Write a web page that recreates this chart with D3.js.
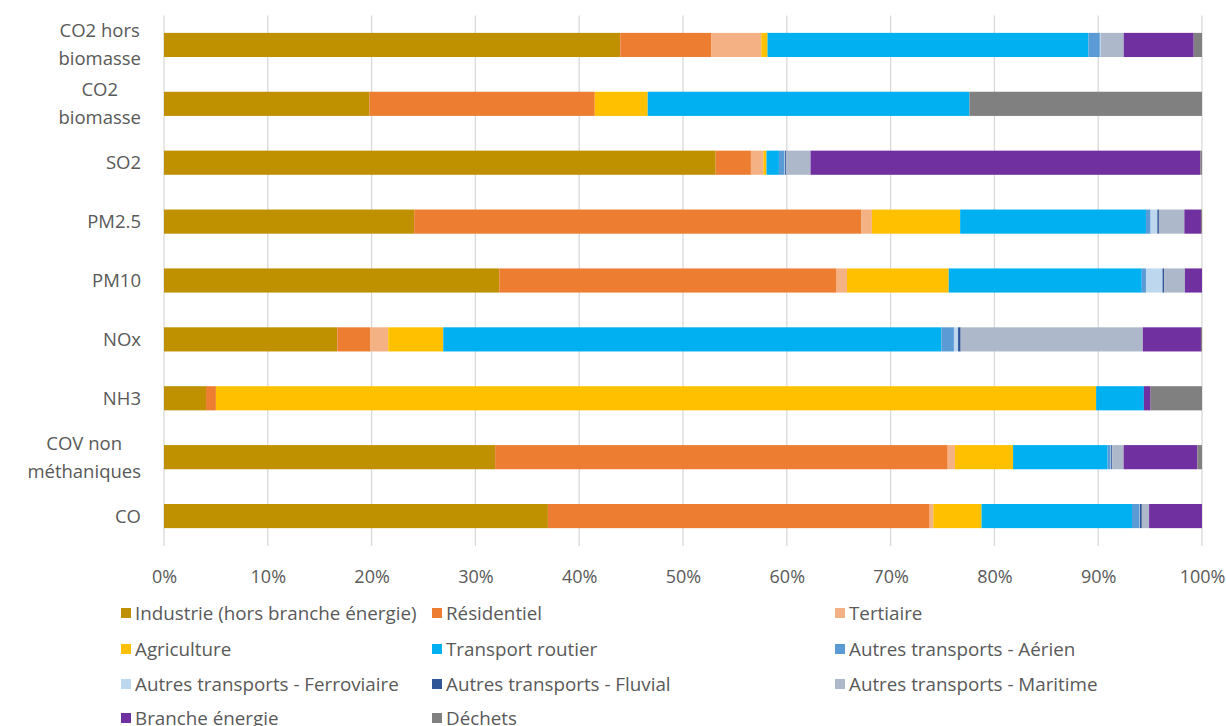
<!DOCTYPE html>
<html><head><meta charset="utf-8">
<script src="https://cdn.jsdelivr.net/npm/d3@7"></script>
<style>
body{margin:0;background:#fff;}
text{font-family:"Open Sans",sans-serif;fill:#595959;}
</style></head>
<body><svg id="c" width="1226" height="726"></svg>
<script>
const categories = ["CO2 hors biomasse","CO2 biomasse","SO2","PM2.5","PM10","NOx","NH3","COV non méthaniques","CO"];
const categoryLines = [["CO2 hors","biomasse"],["CO2","biomasse"],["SO2"],["PM2.5"],["PM10"],["NOx"],["NH3"],["COV non","méthaniques"],["CO"]];
const seriesNames = ["Industrie (hors branche énergie)","Résidentiel","Tertiaire","Agriculture","Transport routier","Autres transports - Aérien","Autres transports - Ferroviaire","Autres transports - Fluvial","Autres transports - Maritime","Branche énergie","Déchets"];
const seriesColors = ["#BF9000","#ED7D31","#F4B183","#FFC000","#00B0F0","#5B9BD5","#BDD7EE","#2F5597","#ADB9CA","#7030A0","#808080"];
// values in % per category (same order as categories)
const industrie   = [44.0, 19.8, 53.2, 24.1, 32.3, 16.7, 4.05, 31.9, 37.0];
const residentiel = [8.8, 21.7, 3.4, 43.1, 32.5, 3.2, 0.95, 43.6, 36.8];
const tertiaire   = [4.8, 0, 1.2, 1.0, 1.0, 1.7, 0, 0.7, 0.35];
const agriculture = [0.6, 5.1, 0.3, 8.5, 9.8, 5.3, 84.8, 5.6, 4.65];
const routier     = [30.95, 31.0, 1.2, 17.9, 18.6, 48.0, 4.6, 9.1, 14.5];
const aerien      = [1.1, 0, 0.55, 0.45, 0.4, 1.2, 0, 0.3, 0.7];
const ferroviaire = [0.1, 0, 0.05, 0.65, 1.6, 0.4, 0, 0.05, 0.05];
const fluvial     = [0, 0, 0.1, 0.15, 0.15, 0.25, 0, 0.1, 0.2];
const maritime    = [2.2, 0, 2.35, 2.45, 2.0, 17.55, 0, 1.1, 0.7];
const branche     = [6.75, 0, 37.6, 1.6, 1.65, 5.6, 0.65, 7.1, 5.1];
const dechets     = [0.8, 22.4, 0.15, 0.1, 0, 0.1, 4.95, 0.45, 0];
const xTicks = [0,0.1,0.2,0.3,0.4,0.5,0.6,0.7,0.8,0.9,1.0];

const seriesValues = [industrie,residentiel,tertiaire,agriculture,routier,aerien,ferroviaire,fluvial,maritime,branche,dechets];
const rows = categories.map((c,i)=>{const o={cat:c};seriesNames.forEach((s,j)=>o[s]=seriesValues[j][i]);return o;});
rows.forEach(r=>{const t=d3.sum(seriesNames,s=>r[s]);seriesNames.forEach(s=>r[s]=r[s]/t);});
const stacked = d3.stack().keys(seriesNames)(rows);

const svg = d3.select("#c");
const x = d3.scaleLinear().domain([0,1]).range([164,1202]);
const y = d3.scaleBand().domain(categories).range([15.5,545.5]).paddingInner(0.59).paddingOuter(0.295);

// gridlines
svg.append("g").selectAll("line").data(xTicks).join("line")
  .attr("x1",d=>x(d)).attr("x2",d=>x(d)).attr("y1",15.5).attr("y2",546)
  .attr("stroke","#d9d9d9").attr("stroke-width",1.3);

// bars
svg.append("g").selectAll("g").data(stacked).join("g")
  .attr("fill",(d,i)=>seriesColors[i])
  .selectAll("rect").data(d=>d).join("rect")
  .attr("x",d=>x(d[0])).attr("width",d=>Math.max(0,x(d[1])-x(d[0])))
  .attr("y",d=>y(d.data.cat)).attr("height",y.bandwidth());

// x axis tick labels
const xa = svg.append("g").attr("transform","translate(0,546)")
  .call(d3.axisBottom(x).tickValues(xTicks).tickFormat(d3.format(".0%")).tickSize(0).tickPadding(24));
xa.select(".domain").remove();
xa.selectAll("text").style("font-family","'Open Sans',sans-serif").style("font-size","18px").attr("fill","#595959");

// category labels
const lab = svg.append("g");
categories.forEach((c,i)=>{
  const lines = categoryLines[i];
  const g = lab.append("g");
  const cy = y(c)+y.bandwidth()/2;
  const lh = 28;
  const ts = lines.map((l,k)=>g.append("text").text(l).attr("font-size","18.5px")
     .attr("y",cy+(k-(lines.length-1)/2)*lh).attr("dy","0.35em").attr("text-anchor","middle"));
  const w = d3.max(ts,t=>t.node().getComputedTextLength());
  ts.forEach(t=>t.attr("x",141-w/2));
});

// legend
const legX = [121,432,835];
const legY = [613,649,684,718];
const leg = svg.append("g");
seriesNames.forEach((s,i)=>{
  const col=i%3,row=Math.floor(i/3);
  leg.append("rect").attr("x",legX[col]).attr("y",legY[row]-5).attr("width",10).attr("height",10).attr("fill",seriesColors[i]);
  leg.append("text").attr("x",legX[col]+14).attr("y",legY[row]).attr("dy","0.35em").attr("font-size","18.8px").text(s);
});
</script></body></html>
